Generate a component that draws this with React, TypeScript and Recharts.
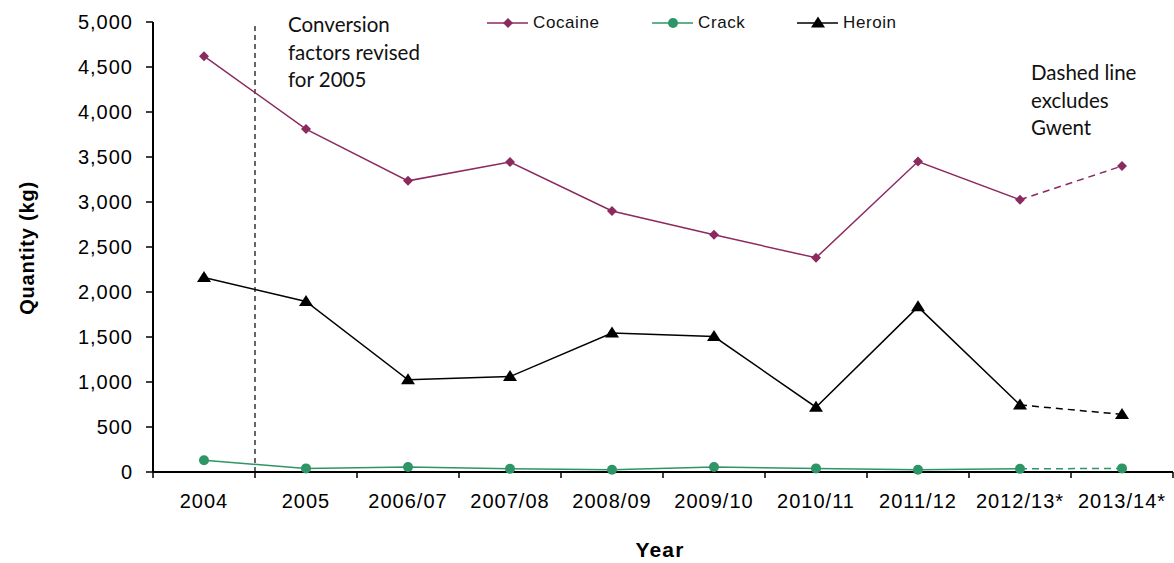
import { LineChart, Line, XAxis, YAxis, ReferenceLine, Legend } from 'recharts'

// Seizure quantities by drug type
const YEARS = ['2004', '2005', '2006/07', '2007/08', '2008/09', '2009/10', '2010/11', '2011/12', '2012/13*', '2013/14*']
const COCAINE = [4620, 3810, 3235, 3445, 2900, 2635, 2380, 3450, 3025, 3400]
const CRACK = [130, 40, 55, 35, 25, 55, 40, 25, 35, 40]
const HEROIN = [2160, 1895, 1025, 1060, 1545, 1505, 720, 1835, 745, 640]
const Y_TICKS = [0, 500, 1000, 1500, 2000, 2500, 3000, 3500, 4000, 4500, 5000]
const DASH_FROM = 8 // 2012/13 onwards excludes Gwent

const W = 1174
const H = 563
const PLOT_LEFT = 153
const PLOT_RIGHT = W - 1
const HALF_BAND = (PLOT_RIGHT - PLOT_LEFT) / YEARS.length / 2

const COLORS = { cocaine: '#8B2A5F', crack: '#2E9566', heroin: '#000000' }
const TICK_FONT = { fontFamily: '"Liberation Sans", Arial, sans-serif', fontSize: 20, letterSpacing: 1, fill: '#000' }

const data = YEARS.map((label, i) => ({
  x: i,
  label,
  cocaine: i <= DASH_FROM ? COCAINE[i] : null,
  crack: i <= DASH_FROM ? CRACK[i] : null,
  heroin: i <= DASH_FROM ? HEROIN[i] : null,
  cocaineDash: i >= DASH_FROM ? COCAINE[i] : null,
  crackDash: i >= DASH_FROM ? CRACK[i] : null,
  heroinDash: i >= DASH_FROM ? HEROIN[i] : null,
}))

// boundaries between categories carry the tick marks (Excel style)
const X_TICKS = Array.from({ length: YEARS.length + 1 }, (_, i) => i - 0.5)

function Diamond({ cx, cy, fill }: any) {
  if (cx == null || cy == null) return <g />
  const s = 5
  return <path d={`M${cx},${cy - s}L${cx + s},${cy}L${cx},${cy + s}L${cx - s},${cy}Z`} fill={fill} />
}

function Dot({ cx, cy, fill }: any) {
  if (cx == null || cy == null) return <g />
  return <circle cx={cx} cy={cy} r={5} fill={fill} />
}

function Triangle({ cx, cy, fill }: any) {
  if (cx == null || cy == null) return <g />
  return <path d={`M${cx},${cy - 6.5}L${cx + 7},${cy + 4.5}L${cx - 7},${cy + 4.5}Z`} fill={fill} />
}

const SHAPES: Record<string, any> = { cocaine: Diamond, crack: Dot, heroin: Triangle }

function makeDot(key: string, onlyLast = false) {
  const Shape = SHAPES[key]
  return (p: any) => {
    if (onlyLast && p.index !== YEARS.length - 1) return <g key={p.index} />
    return <Shape key={p.index} cx={p.cx} cy={p.cy} fill={COLORS[key as keyof typeof COLORS]} />
  }
}

function YearTick({ x, y, payload }: any) {
  const idx = Math.round(payload.value + 0.5)
  if (idx < 0 || idx >= YEARS.length) return <g />
  return (
    <text x={x + HALF_BAND} y={y} dy={30} textAnchor="middle" {...TICK_FONT}>
      {YEARS[idx]}
    </text>
  )
}

function LegendContent() {
  const items = [
    { key: 'cocaine', label: 'Cocaine', left: 0 },
    { key: 'crack', label: 'Crack', left: 165 },
    { key: 'heroin', label: 'Heroin', left: 310 },
  ]
  return (
    <div style={{ position: 'relative', height: 24 }}>
      {items.map(it => {
        const Shape = SHAPES[it.key]
        const c = COLORS[it.key as keyof typeof COLORS]
        return (
          <div key={it.key} style={{ position: 'absolute', left: it.left, top: 0, display: 'flex', alignItems: 'center' }}>
            <svg width={42} height={20}>
              <line x1={0} y1={10} x2={41} y2={10} stroke={c} strokeWidth={1.5} />
              <Shape cx={21} cy={10} fill={c} />
            </svg>
            <span style={{ marginLeft: 4, fontFamily: '"Liberation Sans", Arial, sans-serif', fontSize: 17, letterSpacing: 0.6, color: '#111' }}>
              {it.label}
            </span>
          </div>
        )
      })}
    </div>
  )
}

const noteStyle: React.CSSProperties = {
  position: 'absolute',
  fontFamily: 'Lato, "Open Sans", sans-serif',
  fontSize: 20.5,
  lineHeight: '27.5px',
  color: '#111',
  whiteSpace: 'nowrap',
}

export default function App() {
  return (
    <div style={{ position: 'absolute', left: 0, top: 0, width: W, height: H, background: '#fff' }}>
      <LineChart width={W} height={H} data={data} margin={{ top: 22, right: 1, bottom: 0, left: 93 }}>
        <XAxis
          dataKey="x"
          type="number"
          domain={[-0.5, YEARS.length - 0.5]}
          ticks={X_TICKS}
          interval={0}
          height={91}
          tick={<YearTick />}
          tickSize={6}
          tickMargin={0}
          axisLine={{ stroke: '#000', strokeWidth: 2 }}
          tickLine={{ stroke: '#000', strokeWidth: 1.5 }}
          allowDataOverflow
        />
        <YAxis
          domain={[0, 5000]}
          ticks={Y_TICKS}
          interval={0}
          width={60}
          tickSize={7}
          tickMargin={13}
          tick={TICK_FONT}
          tickFormatter={(v: number) => v.toLocaleString('en-GB')}
          axisLine={{ stroke: '#000', strokeWidth: 2 }}
          tickLine={{ stroke: '#000', strokeWidth: 1.5 }}
        />
        <ReferenceLine x={0.5} stroke="#000" strokeWidth={1.2} strokeDasharray="5 4" />
        <Legend verticalAlign="middle" align="center" content={<LegendContent />} wrapperStyle={{ top: 13, left: 487, width: 420 }} />

        <Line dataKey="cocaine" stroke={COLORS.cocaine} strokeWidth={1.5} dot={makeDot('cocaine')} isAnimationActive={false} />
        <Line dataKey="crack" stroke={COLORS.crack} strokeWidth={1.5} dot={makeDot('crack')} isAnimationActive={false} />
        <Line dataKey="heroin" stroke={COLORS.heroin} strokeWidth={1.5} dot={makeDot('heroin')} isAnimationActive={false} />
        <Line dataKey="cocaineDash" stroke={COLORS.cocaine} strokeWidth={1.5} strokeDasharray="7 5" dot={makeDot('cocaine', true)} isAnimationActive={false} legendType="none" />
        <Line dataKey="crackDash" stroke={COLORS.crack} strokeWidth={1.5} strokeDasharray="7 5" dot={makeDot('crack', true)} isAnimationActive={false} legendType="none" />
        <Line dataKey="heroinDash" stroke={COLORS.heroin} strokeWidth={1.5} strokeDasharray="7 5" dot={makeDot('heroin', true)} isAnimationActive={false} legendType="none" />
      </LineChart>

      <div style={{ ...noteStyle, left: 288, top: 11 }}>
        Conversion<br />factors revised<br />for 2005
      </div>
      <div style={{ ...noteStyle, left: 1031, top: 59 }}>
        Dashed line<br />excludes<br />Gwent
      </div>

      <div
        style={{
          position: 'absolute', left: 27, top: 248, transform: 'translate(-50%, -50%) rotate(-90deg)',
          fontFamily: '"Liberation Sans", Arial, sans-serif', fontWeight: 'bold', fontSize: 20, letterSpacing: 0.8, whiteSpace: 'nowrap',
        }}
      >
        Quantity (kg)
      </div>
      <div
        style={{
          position: 'absolute', left: 660, top: 550, transform: 'translate(-50%, -50%)',
          fontFamily: '"Liberation Sans", Arial, sans-serif', fontWeight: 'bold', fontSize: 21, letterSpacing: 1.2,
        }}
      >
        Year
      </div>
    </div>
  )
}
